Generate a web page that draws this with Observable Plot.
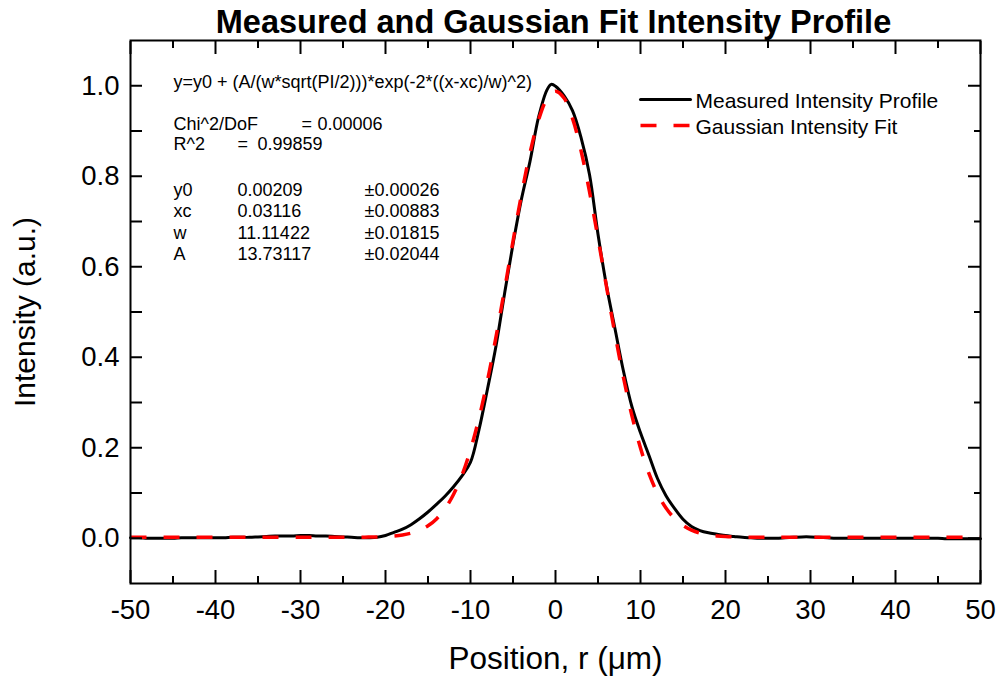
<!DOCTYPE html>
<html><head><meta charset="utf-8">
<script src="https://cdn.jsdelivr.net/npm/d3@7"></script>
<script src="https://cdn.jsdelivr.net/npm/@observablehq/plot@0.6"></script>
<style>html,body{margin:0;padding:0;background:#fff;} #chart svg{display:block;}</style>
</head><body><div id="chart"></div>
<script>
const title = "Measured and Gaussian Fit Intensity Profile";
const xLabel = "Position, r (\u03bcm)";
const yLabel = "Intensity (a.u.)";
const seriesNames = ["Measured Intensity Profile", "Gaussian Intensity Fit"];

const measuredX = [-50,-49,-48,-47,-46,-45,-44,-43,-42,-41,-40,-39,-38,-37,-36,-35,-34,-33,-32,-31,-30,-29,-28,-27,-26,-25,-24,-23,-22,-21,-20,-19,-18,-17,-16,-15,-14,-13,-12,-11,-10,-9,-8,-7,-6,-5,-4,-3,-2,-1,-0.5,0,1,2,3,4,5,6,7,8,9,10,11,12,13,14,15,16,17,18,19,20,21,22,23,24,25,26,27,28,29,30,31,32,33,34,35,36,37,38,39,40,41,42,43,44,45,46,47,48,49,50];
const measuredY = [0.001,0.001,0.000,0.000,0.000,0.000,0.001,0.001,0.001,0.001,0.001,0.001,0.002,0.002,0.002,0.003,0.004,0.005,0.005,0.005,0.006,0.006,0.005,0.005,0.004,0.003,0.002,0.001,0.001,0.002,0.006,0.013,0.020,0.030,0.043,0.058,0.075,0.093,0.114,0.138,0.168,0.240,0.330,0.425,0.540,0.650,0.750,0.833,0.930,0.991,1.003,0.999,0.978,0.945,0.886,0.804,0.672,0.558,0.463,0.369,0.290,0.233,0.183,0.132,0.094,0.066,0.042,0.026,0.017,0.012,0.009,0.006,0.004,0.002,0.001,0.000,0.000,0.000,0.001,0.002,0.003,0.003,0.002,0.001,0.000,0.000,0.000,0.000,0.000,0.000,0.000,0.000,0.000,0.000,0.000,0.000,0.000,-0.001,-0.001,-0.001,-0.001,-0.001];

const fitX = [-50,-45,-40,-35,-30,-26,-25,-24,-23,-22,-21,-20,-19,-18,-17,-16,-15,-14,-13,-12,-11,-10,-9,-8,-7,-6,-5,-4,-3,-2,-1,0,1,2,3,4,5,6,7,8,9,10,11,12,13,14,15,16,17,18,19,20,21,22,23,24,25,26,30,35,40,45,50];
const fitY = [0.0021,0.0021,0.0021,0.0021,0.0021,0.0021,0.0021,0.0022,0.0023,0.0025,0.0029,0.0036,0.0049,0.0072,0.0111,0.0175,0.0275,0.0428,0.0652,0.0967,0.1395,0.1954,0.2653,0.3490,0.4449,0.5492,0.6564,0.7598,0.8516,0.9242,0.9711,0.9879,0.9730,0.9279,0.8568,0.7659,0.6630,0.5558,0.4511,0.3547,0.2701,0.1993,0.1426,0.0990,0.0668,0.0439,0.0283,0.0180,0.0114,0.0074,0.0050,0.0036,0.0029,0.0025,0.0023,0.0022,0.0021,0.0021,0.0021,0.0021,0.0021,0.0021,0.0021];

const xTickValues = [-50,-40,-30,-20,-10,0,10,20,30,40,50];
const xMinorTickValues = [-45,-35,-25,-15,-5,5,15,25,35,45];
const yTickValues = [0.0,0.2,0.4,0.6,0.8,1.0];
const yMinorTickValues = [0.1,0.3,0.5,0.7,0.9];

const formulaText = "y=y0 + (A/(w*sqrt(PI/2)))*exp(-2*((x-xc)/w)^2)";
const statNames = ["Chi^2/DoF", "R^2"];
const statValues = ["0.00006", "0.99859"];
const paramNames = ["y0", "xc", "w", "A"];
const paramValues = ["0.00209", "0.03116", "11.11422", "13.73117"];
const paramErrors = ["\u00b10.00026", "\u00b10.00883", "\u00b10.01815", "\u00b10.02044"];

const FONT = "'Liberation Sans', Arial, Helvetica, sans-serif";
const ANN = 18;
const hline = {draw(ctx, l) { ctx.moveTo(0, 0); ctx.lineTo(l, 0); }};
const txt = (s, o) => Plot.text([s], {text: d => d, fill: "#000", lineAnchor: "bottom", textAnchor: "start", ...o});

const statRowDy = [89, 109];
const statEqDx = [171, 107];
const statValDx = [187, 127];
const paramRowDy = [155, 176, 198, 219];

const marks = [
  Plot.line(measuredY, {x: measuredX, y: measuredY, stroke: "#000", strokeWidth: 3, curve: "catmull-rom"}),
  Plot.line(fitY, {x: fitX, y: fitY, stroke: "#ff0000", strokeWidth: 3.5, strokeDasharray: "16,17", strokeLinecap: "butt", curve: "catmull-rom"}),
  Plot.frame({stroke: "#000", strokeWidth: 2}),
  // inward ticks
  Plot.axisX(xTickValues, {anchor: "bottom", tickSize: -13, strokeWidth: 2, tickFormat: () => "", label: null}),
  Plot.axisX(xMinorTickValues, {anchor: "bottom", tickSize: -7, strokeWidth: 2, tickFormat: () => "", label: null}),
  Plot.axisX(xTickValues, {anchor: "top", tickSize: -13, strokeWidth: 2, tickFormat: () => "", label: null}),
  Plot.axisX(xMinorTickValues, {anchor: "top", tickSize: -7, strokeWidth: 2, tickFormat: () => "", label: null}),
  Plot.axisY(yTickValues, {anchor: "left", tickSize: -12, strokeWidth: 2, tickFormat: () => "", label: null}),
  Plot.axisY(yMinorTickValues, {anchor: "left", tickSize: -12, strokeWidth: 2, tickFormat: () => "", label: null}),
  Plot.axisY(yTickValues, {anchor: "right", tickSize: -13, strokeWidth: 2, tickFormat: () => "", label: null}),
  Plot.axisY(yMinorTickValues, {anchor: "right", tickSize: -7, strokeWidth: 2, tickFormat: () => "", label: null}),
  // tick labels
  Plot.axisX(xTickValues, {anchor: "bottom", tickSize: 0, tickPadding: 16, fontSize: 27.5, tickFormat: d => String(d), label: null}),
  Plot.axisY(yTickValues, {anchor: "left", tickSize: 0, tickPadding: 11, fontSize: 27.5, tickFormat: d => d.toFixed(1), label: null}),
  // titles
  txt(title, {frameAnchor: "top", textAnchor: "middle", dx: -2, dy: -8, fontSize: 32.5, fontWeight: "bold"}),
  txt(xLabel, {frameAnchor: "bottom", textAnchor: "middle", dy: 85, fontSize: 31.5}),
  txt(yLabel, {frameAnchor: "left", textAnchor: "middle", rotate: -90, dx: -96, fontSize: 30}),
  // fit report
  txt(formulaText, {frameAnchor: "top-left", dx: 43, dy: 47, fontSize: ANN}),
  ...statNames.flatMap((s, i) => [
    txt(s, {frameAnchor: "top-left", dx: 43, dy: statRowDy[i], fontSize: ANN}),
    txt("=", {frameAnchor: "top-left", dx: statEqDx[i], dy: statRowDy[i], fontSize: ANN}),
    txt(statValues[i], {frameAnchor: "top-left", dx: statValDx[i], dy: statRowDy[i], fontSize: ANN})
  ]),
  ...paramNames.flatMap((p, i) => [
    txt(p, {frameAnchor: "top-left", dx: 43, dy: paramRowDy[i], fontSize: ANN}),
    txt(paramValues[i], {frameAnchor: "top-left", dx: 107, dy: paramRowDy[i], fontSize: ANN}),
    txt(paramErrors[i], {frameAnchor: "top-left", dx: 234, dy: paramRowDy[i], fontSize: ANN})
  ]),
  // legend
  Plot.vector([seriesNames[0]], {frameAnchor: "top-right", dx: -340, dy: 59, length: 50, rotate: 0, anchor: "start", shape: hline, stroke: "#000", strokeWidth: 3}),
  Plot.vector([seriesNames[1]], {frameAnchor: "top-right", dx: -340, dy: 85, length: 50, rotate: 0, anchor: "start", shape: hline, stroke: "#ff0000", strokeWidth: 3.5, strokeDasharray: "16,17", strokeLinecap: "butt"}),
  txt(seriesNames[0], {frameAnchor: "top-left", dx: 565, dy: 67, fontSize: 21}),
  txt(seriesNames[1], {frameAnchor: "top-left", dx: 565, dy: 93, fontSize: 21})
];

const chart = Plot.plot({
  width: 998,
  height: 679,
  marginLeft: 130,
  marginRight: 18,
  marginTop: 40,
  marginBottom: 96,
  style: {fontFamily: FONT, background: "#fff", color: "#000", overflow: "visible"},
  x: {domain: [-50, 50]},
  y: {domain: [-0.1, 1.1]},
  marks
});
document.getElementById("chart").append(chart);
</script>
</body></html>
